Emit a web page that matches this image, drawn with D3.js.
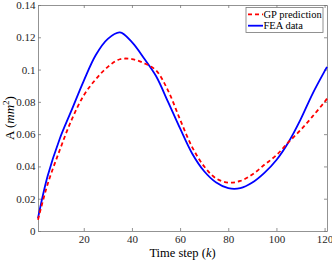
<!DOCTYPE html>
<head>
  <meta charset="utf-8">
  <script src="https://d3js.org/d3.v7.min.js"></script>
  <style>
    body { margin: 0; background: #fff; }
    text { font-family: "Liberation Serif", "DejaVu Serif", serif; }
  </style>
</head>
<body>

<div id="my_dataviz"></div>

<script>

  // values
  var steps   = [1, 5, 10, 15, 20, 25, 30, 35, 40, 45, 50, 55, 60, 65, 70, 75, 80, 85, 90, 95, 100, 105, 110, 115, 120, 121];
  var feaData = [0.008, 0.034, 0.057, 0.075, 0.093, 0.109, 0.119, 0.123, 0.117, 0.107, 0.096, 0.080, 0.0635, 0.048,
                 0.037, 0.030, 0.0265, 0.0265, 0.030, 0.036, 0.044, 0.055, 0.069, 0.085, 0.099, 0.1017];
  var gpPred  = [0.007, 0.029, 0.050, 0.069, 0.084, 0.094, 0.1017, 0.1064, 0.1065, 0.104, 0.0995, 0.087, 0.069, 0.052,
                 0.040, 0.0325, 0.030, 0.031, 0.035, 0.041, 0.047, 0.055, 0.0625, 0.071, 0.080, 0.082];
  var xTicks  = [20, 40, 60, 80, 100, 120];
  var yTicks  = [0, 0.02, 0.04, 0.06, 0.08, 0.1, 0.12, 0.14];

  // set the dimensions and margins of the graph
  var margin = {top: 5, right: 5, bottom: 30, left: 38},
    width = 332 - margin.left - margin.right,
    height = 261 - margin.top - margin.bottom;

  var svg = d3.select("#my_dataviz")
  .append("svg")
    .attr("width", width + margin.left + margin.right)
    .attr("height", height + margin.top + margin.bottom)
  .append("g")
    .attr("transform", "translate(" + margin.left + "," + margin.top + ")");

  var x = d3.scaleLinear().domain([1, 121]).range([0, width]);
  var y = d3.scaleLinear().domain([0, 0.14]).range([height, 0]);

  var axisColor = "#777";
  var fmtY = function(d) { return d === 0 ? "0" : String(+d.toFixed(2)); };

  // axes with inward ticks
  svg.append("g")
    .attr("transform", "translate(0," + height + ")")
    .call(d3.axisBottom(x).tickValues(xTicks).tickSizeInner(-3).tickSizeOuter(0).tickPadding(4.5));
  svg.append("g")
    .call(d3.axisLeft(y).tickValues(yTicks).tickFormat(fmtY).tickSizeInner(-3).tickSizeOuter(0).tickPadding(2.5));
  svg.append("g")
    .call(d3.axisTop(x).tickValues(xTicks).tickFormat("").tickSizeInner(-3).tickSizeOuter(0));
  svg.append("g")
    .attr("transform", "translate(" + width + ",0)")
    .call(d3.axisRight(y).tickValues(yTicks).tickFormat("").tickSizeInner(-3).tickSizeOuter(0));

  svg.selectAll(".domain, .tick line").attr("stroke", axisColor).attr("stroke-width", 0.8);
  svg.selectAll(".tick text").attr("fill", "#262626").style("font-size", "11px");

  // lines
  var pts = function(vals) { return steps.map(function(k, i) { return [k, vals[i]]; }); };
  var line = d3.line()
    .x(function(d) { return x(d[0]); })
    .y(function(d) { return y(d[1]); })
    .curve(d3.curveCatmullRom.alpha(0.5));

  svg.append("path")
    .datum(pts(feaData))
    .attr("fill", "none")
    .attr("stroke", "#0000ff")
    .attr("stroke-width", 1.8)
    .attr("d", line);

  svg.append("path")
    .datum(pts(gpPred))
    .attr("fill", "none")
    .attr("stroke", "#ff0000")
    .attr("stroke-width", 1.8)
    .attr("stroke-dasharray", "4,3")
    .attr("d", line);

  // legend
  var lg = svg.append("g").attr("transform", "translate(" + (width - 81) + ",2.5)");
  lg.append("rect")
    .attr("width", 77).attr("height", 25)
    .attr("fill", "#fff").attr("stroke", axisColor).attr("stroke-width", 0.8);
  var entries = [["GP prediction", "#ff0000", "4,3"], ["FEA data", "#0000ff", null]];
  entries.forEach(function(e, i) {
    var yy = 6.8 + i * 11.4;
    lg.append("line")
      .attr("x1", 2).attr("x2", 17).attr("y1", yy).attr("y2", yy)
      .attr("stroke", e[1]).attr("stroke-width", 1.8)
      .attr("stroke-dasharray", e[2]);
    lg.append("text")
      .attr("x", 17.5).attr("y", yy + 3.5)
      .style("font-size", "10.5px").attr("fill", "#000")
      .text(e[0]);
  });

  // axis labels
  var xl = svg.append("text")
    .attr("x", width / 2).attr("y", height + 25.5)
    .attr("text-anchor", "middle").style("font-size", "12.5px");
  xl.append("tspan").text("Time step (");
  xl.append("tspan").style("font-style", "italic").text("k");
  xl.append("tspan").text(")");

  var yl = svg.append("text")
    .attr("transform", "translate(" + (-24.5) + "," + (height / 2) + ") rotate(-90)")
    .attr("text-anchor", "middle").style("font-size", "13px");
  yl.append("tspan").text("A (");
  yl.append("tspan").style("font-style", "italic").text("mm");
  yl.append("tspan").attr("dy", -5).style("font-size", "9px").text("2");
  yl.append("tspan").attr("dy", 5).text(")");

</script>

</body>
